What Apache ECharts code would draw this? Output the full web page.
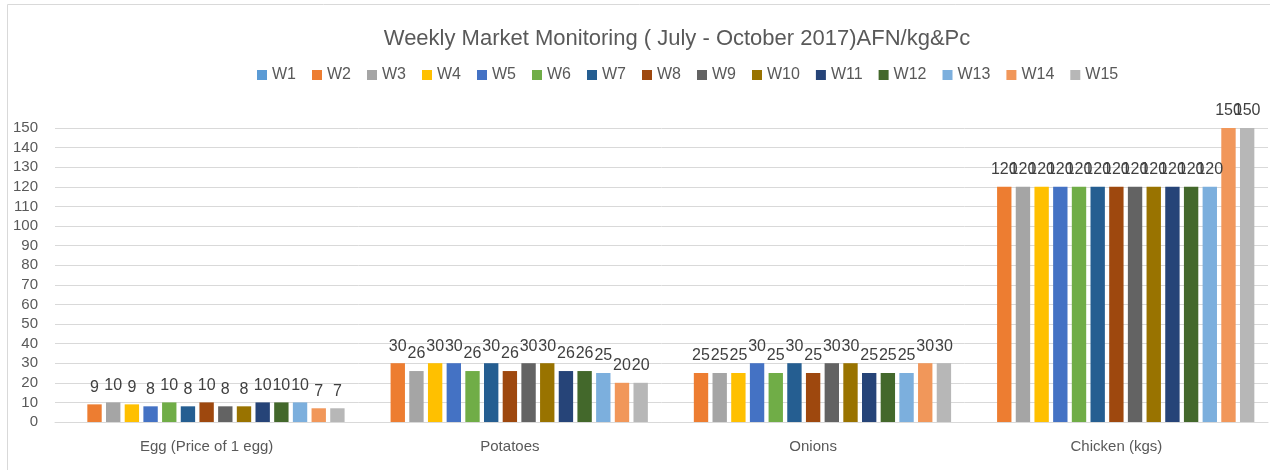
<!DOCTYPE html>
<html>
<head>
<meta charset="utf-8">
<script src="https://cdn.jsdelivr.net/npm/echarts@6/dist/echarts.min.js"></script>
<style>
    html, body { margin: 0; padding: 0; background: #fff; }
    #chart_main { width: 1270px; height: 470px; }
</style>
</head>
<body>
<div id="chart_main"></div>
<script>
// categories and weekly values (W1 has no data)
var categories = ['Egg (Price of 1 egg)', 'Potatoes', 'Onions', 'Chicken (kgs)'];
var weeks = ['W1', 'W2', 'W3', 'W4', 'W5', 'W6', 'W7', 'W8', 'W9', 'W10', 'W11', 'W12', 'W13', 'W14', 'W15'];
var egg = [null, 9, 10, 9, 8, 10, 8, 10, 8, 8, 10, 10, 10, 7, 7];
var potatoes = [null, 30, 26, 30, 30, 26, 30, 26, 30, 30, 26, 26, 25, 20, 20];
var onions = [null, 25, 25, 25, 30, 25, 30, 25, 30, 30, 25, 25, 25, 30, 30];
var chicken = [null, 120, 120, 120, 120, 120, 120, 120, 120, 120, 120, 120, 120, 150, 150];
var weekColors = ['#5B9BD5', '#ED7D31', '#A5A5A5', '#FFC000', '#4472C4', '#70AD47', '#255E91', '#9E480E',
    '#636363', '#997300', '#264478', '#43682B', '#7CAFDD', '#F1975A', '#B7B7B7'];

var font = 'Liberation Sans, sans-serif';

var series = [];
for (var i = 0; i < weeks.length; i++) {
    series.push({
        name: weeks[i],
        type: 'bar',
        barGap: '30%',
        barCategoryGap: '9%',
        itemStyle: { color: weekColors[i] },
        label: {
            show: true,
            position: 'top',
            distance: 9,
            color: '#404040',
            fontSize: 16,
            fontFamily: font
        },
        data: [egg[i], potatoes[i], onions[i], chicken[i]]
    });
}

var myChart = echarts.init(document.getElementById('chart_main'));
var option = {
    animation: false,
    color: weekColors,
    title: {
        text: 'Weekly Market Monitoring ( July - October 2017)AFN/kg&Pc',
        left: 672,
        top: 23,
        textAlign: 'center',
        textStyle: { color: '#595959', fontSize: 22, fontWeight: 'normal', fontFamily: font }
    },
    legend: {
        data: weeks,
        left: 252,
        top: 62,
        width: 1000,
        itemWidth: 10,
        itemHeight: 10,
        itemGap: 16,
        icon: 'rect',
        textStyle: { color: '#595959', fontSize: 16, fontFamily: font }
    },
    grid: {
        left: 55,
        right: 2,
        top: 128,
        bottom: 48
    },
    xAxis: {
        type: 'category',
        data: categories,
        axisLine: { lineStyle: { color: '#d9d9d9', width: 1 } },
        axisTick: { show: false },
        axisLabel: { color: '#595959', fontSize: 15, fontFamily: font, margin: 17 }
    },
    yAxis: {
        type: 'value',
        min: 0,
        max: 150,
        interval: 10,
        axisLine: { show: false },
        axisTick: { show: false },
        splitLine: { lineStyle: { color: '#d9d9d9', width: 1 } },
        axisLabel: { color: '#595959', fontSize: 15, fontFamily: font, margin: 17 }
    },
    graphic: [{
        type: 'rect',
        shape: { x: 7.5, y: 4.5, width: 1300, height: 500 },
        style: { fill: 'none', stroke: '#d9d9d9', lineWidth: 1 },
        silent: true
    }],
    series: series
};
myChart.setOption(option);
</script>
</body>
</html>
